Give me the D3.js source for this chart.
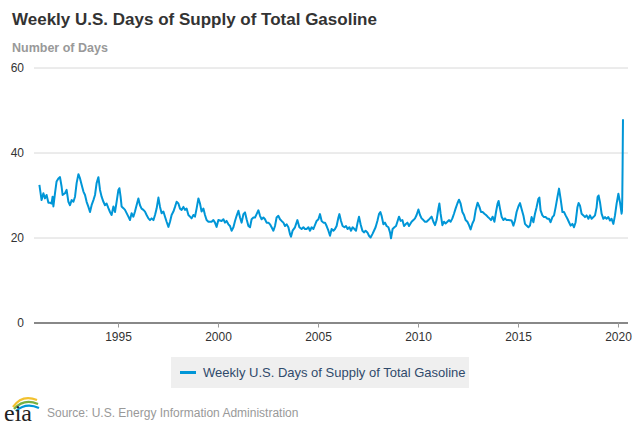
<!DOCTYPE html>
<html>
<head>
<meta charset="utf-8">
<script src="https://cdn.jsdelivr.net/npm/d3@7"></script>
<style>
  body { margin: 0; background: #fff; }
  svg { display: block; font-family: "Liberation Sans", Arial, sans-serif; }
</style>
</head>
<body>
<svg id="chart"></svg>
<script>
const dayTicks = [0, 20, 40, 60];
const yearTicks = [1995, 2000, 2005, 2010, 2015, 2020];

// [decimal year, days of supply]
const supply1991 = [
  [1991.07, 32.4], [1991.18, 28.8], [1991.27, 30.4], [1991.35, 29.2], [1991.43, 30.0],
  [1991.52, 28.2], [1991.60, 28.2], [1991.68, 28.0], [1991.73, 29.6], [1991.77, 27.3],
  [1991.85, 30.4], [1991.93, 33.2], [1992.02, 33.9], [1992.10, 34.2], [1992.18, 32.0],
  [1992.23, 30.0], [1992.35, 30.4], [1992.43, 31.2], [1992.52, 28.4], [1992.60, 27.6],
  [1992.68, 28.8], [1992.77, 28.4], [1992.85, 29.6], [1992.93, 32.8], [1993.02, 34.9],
  [1993.10, 33.9], [1993.18, 32.4], [1993.27, 30.8], [1993.35, 30.0], [1993.43, 28.4],
  [1993.52, 27.2], [1993.60, 26.0], [1993.68, 27.6], [1993.77, 28.8], [1993.85, 30.0],
  [1993.93, 32.8], [1994.02, 34.2], [1994.10, 31.2], [1994.18, 29.6], [1994.27, 28.4],
  [1994.35, 27.6], [1994.43, 28.0], [1994.52, 26.9], [1994.60, 26.0], [1994.68, 25.3],
  [1994.77, 27.3], [1994.85, 26.0], [1994.93, 28.4], [1995.02, 31.2], [1995.07, 31.6],
  [1995.13, 29.6], [1995.18, 27.3], [1995.27, 26.9]
];
const supply1995 = [
  [1995.35, 26.5], [1995.52, 24.9], [1995.60, 24.1], [1995.68, 25.7], [1995.77, 24.9],
  [1995.85, 26.1], [1995.93, 27.6], [1996.02, 29.2], [1996.10, 27.6], [1996.18, 26.8],
  [1996.27, 26.5], [1996.35, 26.1], [1996.43, 25.3], [1996.52, 24.5], [1996.60, 24.1],
  [1996.68, 24.5], [1996.77, 24.1], [1996.85, 25.3], [1996.93, 26.8], [1997.02, 29.4],
  [1997.10, 27.2], [1997.18, 25.7], [1997.27, 26.1], [1997.35, 24.9], [1997.43, 23.7],
  [1997.52, 22.5], [1997.60, 23.7], [1997.68, 25.3], [1997.77, 26.1], [1997.85, 27.2],
  [1997.93, 28.4], [1998.02, 28.0], [1998.10, 26.8], [1998.18, 26.5], [1998.27, 27.2],
  [1998.35, 26.5], [1998.43, 26.8], [1998.52, 25.3], [1998.60, 24.9], [1998.68, 24.5],
  [1998.77, 25.3], [1998.85, 24.9], [1998.93, 26.8], [1999.02, 29.2], [1999.10, 28.0],
  [1999.18, 26.1], [1999.27, 26.8], [1999.35, 25.3], [1999.43, 24.1], [1999.52, 23.7],
  [1999.60, 23.7], [1999.68, 23.7], [1999.77, 24.1], [1999.85, 23.5], [1999.93, 22.5],
  [2000.02, 24.1]
];
const supply2000 = [
  [2000.18, 23.9], [2000.27, 24.3], [2000.35, 23.5], [2000.43, 23.9], [2000.52, 23.1],
  [2000.60, 22.7], [2000.68, 21.6], [2000.77, 22.4], [2000.85, 23.9], [2000.93, 25.1],
  [2001.02, 26.3], [2001.10, 24.7], [2001.18, 23.5], [2001.27, 25.5], [2001.35, 25.9],
  [2001.43, 24.3], [2001.52, 22.7], [2001.60, 22.4], [2001.68, 24.3], [2001.77, 24.7],
  [2001.85, 24.7], [2001.93, 25.5], [2002.02, 26.4], [2002.10, 25.1], [2002.18, 24.3],
  [2002.27, 24.7], [2002.35, 24.3], [2002.43, 23.5], [2002.52, 23.5], [2002.60, 23.1],
  [2002.68, 22.4], [2002.77, 21.6], [2002.85, 22.7], [2002.93, 24.7], [2003.02, 25.1],
  [2003.10, 24.3], [2003.18, 23.9], [2003.27, 23.5], [2003.35, 22.7], [2003.43, 23.1],
  [2003.52, 22.4], [2003.60, 20.8], [2003.65, 20.2], [2003.73, 21.6], [2003.85, 22.4],
  [2003.97, 24.1], [2004.07, 22.4], [2004.18, 22.0], [2004.27, 22.4], [2004.35, 22.0],
  [2004.43, 22.0], [2004.52, 22.4], [2004.60, 21.6], [2004.68, 22.4], [2004.77, 22.0]
];
const supply2005 = [
  [2004.93, 23.9], [2005.02, 24.3], [2005.10, 25.5], [2005.18, 23.9], [2005.27, 23.5],
  [2005.35, 23.5], [2005.43, 22.7], [2005.52, 21.6], [2005.60, 20.4], [2005.68, 22.0],
  [2005.77, 21.6], [2005.85, 22.0], [2005.93, 22.7], [2006.02, 24.7], [2006.07, 25.5],
  [2006.15, 23.9], [2006.23, 22.7], [2006.32, 22.4], [2006.40, 22.7], [2006.48, 22.0],
  [2006.57, 22.4], [2006.65, 21.6], [2006.73, 22.4], [2006.82, 22.0], [2006.90, 21.6],
  [2006.98, 23.5], [2007.05, 24.9], [2007.13, 23.1], [2007.22, 21.6], [2007.30, 21.2],
  [2007.38, 21.6], [2007.47, 21.2], [2007.55, 20.4], [2007.63, 20.0], [2007.72, 20.8],
  [2007.80, 21.6], [2007.88, 22.4], [2007.97, 23.9], [2008.05, 25.5], [2008.12, 26.0],
  [2008.18, 25.1], [2008.27, 23.1], [2008.35, 23.5], [2008.43, 22.7], [2008.52, 22.4],
  [2008.60, 21.2], [2008.65, 19.8], [2008.73, 22.0], [2008.82, 22.4], [2008.90, 22.7],
  [2008.98, 23.9], [2009.05, 24.9], [2009.13, 23.9], [2009.22, 24.1], [2009.30, 22.7],
  [2009.38, 23.1], [2009.47, 23.5], [2009.55, 22.7]
];
const supply2010 = [
  [2009.68, 23.7], [2009.77, 24.1], [2009.85, 24.5], [2009.93, 25.3], [2010.02, 26.6],
  [2010.10, 25.3], [2010.18, 24.5], [2010.27, 24.1], [2010.35, 23.7], [2010.43, 23.7],
  [2010.52, 24.1], [2010.60, 24.5], [2010.68, 24.9], [2010.77, 23.7], [2010.85, 22.9],
  [2010.93, 24.1], [2011.02, 26.8], [2011.07, 28.0], [2011.13, 25.6], [2011.22, 22.9],
  [2011.30, 23.7], [2011.38, 23.3], [2011.47, 23.7], [2011.55, 24.1], [2011.63, 23.7],
  [2011.72, 24.5], [2011.80, 25.6], [2011.88, 26.8], [2011.97, 28.0], [2012.05, 28.9],
  [2012.13, 28.0], [2012.22, 26.0], [2012.30, 25.3], [2012.38, 24.1], [2012.47, 23.7],
  [2012.55, 22.9], [2012.63, 21.9], [2012.72, 23.3], [2012.80, 24.1], [2012.88, 26.4],
  [2012.98, 28.2], [2013.07, 27.2], [2013.15, 26.0], [2013.23, 26.0], [2013.32, 25.6],
  [2013.40, 25.3], [2013.48, 24.9], [2013.57, 24.5], [2013.65, 24.1], [2013.73, 24.9],
  [2013.82, 23.7], [2013.90, 26.0], [2013.98, 28.0], [2014.03, 28.6], [2014.10, 26.8],
  [2014.18, 24.9], [2014.27, 24.1], [2014.35, 24.5], [2014.43, 24.1], [2014.52, 24.1]
];
const supply2015 = [
  [2014.68, 24.0], [2014.77, 22.8], [2014.85, 24.0], [2014.93, 26.0], [2015.02, 27.3],
  [2015.10, 28.1], [2015.18, 26.7], [2015.27, 25.2], [2015.35, 23.2], [2015.43, 22.8],
  [2015.52, 22.4], [2015.60, 22.8], [2015.68, 24.8], [2015.77, 23.6], [2015.85, 25.6],
  [2015.93, 27.1], [2016.02, 29.1], [2016.07, 29.4], [2016.13, 26.4], [2016.22, 25.2],
  [2016.30, 24.8], [2016.38, 24.8], [2016.47, 24.4], [2016.55, 24.4], [2016.63, 23.6],
  [2016.72, 24.8], [2016.80, 25.2], [2016.88, 27.1], [2016.97, 29.5], [2017.05, 31.5],
  [2017.13, 29.1], [2017.22, 26.0], [2017.30, 26.0], [2017.38, 25.2], [2017.47, 24.4],
  [2017.55, 23.6], [2017.63, 22.8], [2017.72, 23.2], [2017.80, 22.4], [2017.88, 23.6],
  [2017.97, 27.1], [2018.03, 28.1], [2018.10, 27.5], [2018.18, 25.6], [2018.27, 25.2],
  [2018.35, 24.8], [2018.43, 25.2], [2018.52, 24.4], [2018.60, 25.2], [2018.68, 24.4],
  [2018.77, 24.8], [2018.85, 25.2], [2018.93, 27.1], [2018.98, 29.5], [2019.03, 29.9],
  [2019.10, 28.3], [2019.18, 25.6], [2019.27, 24.4], [2019.35, 24.8], [2019.43, 24.4],
  [2019.52, 24.8], [2019.60, 24.0], [2019.68, 24.4], [2019.77, 23.2], [2019.85, 25.2],
  [2019.93, 27.9], [2020.02, 30.3], [2020.10, 28.3], [2020.18, 25.6], [2020.20, 26.2],
  [2020.215, 29.5], [2020.23, 36.5], [2020.24, 42.5], [2020.25, 47.8]
];

function toDate(y){
    const yr = Math.floor(y);
    const start = new Date(yr, 0, 1), end = new Date(yr + 1, 0, 1);
    return new Date(+start + (y - yr) * (end - start));
}

class SupplyChart{
    constructor(config, data){
        this.config = {
            parent: config.parent || '#chart',
            width: config.width || 640,
            height: config.height || 427,
            left: 34, right: 628, top: 67.5, bottom: 322.5
        };
        this.data = data;
        this.init();
    }

    init(){
        const c = this.config;
        this.svg = d3.select(c.parent)
            .attr('width', c.width)
            .attr('height', c.height);

        this.x = d3.scaleTime()
            .domain([toDate(1990.8), toDate(2020.5)])
            .range([c.left, c.right]);
        this.y = d3.scaleLinear()
            .domain([0, 60])
            .range([c.bottom, c.top]);

        this.line = d3.line()
            .x(d => this.x(toDate(d[0])))
            .y(d => this.y(d[1]));
    }

    render(){
        const c = this.config, svg = this.svg;

        svg.append('text')
            .attr('x', 12).attr('y', 25)
            .attr('font-size', 17).attr('font-weight', 'bold').attr('fill', '#333')
            .text('Weekly U.S. Days of Supply of Total Gasoline');
        svg.append('text')
            .attr('x', 12).attr('y', 52)
            .attr('font-size', 12.5).attr('font-weight', 'bold').attr('fill', '#999')
            .text('Number of Days');

        // y grid + labels
        const yAxis = svg.append('g')
            .attr('transform', `translate(${c.left},0)`)
            .call(d3.axisLeft(this.y).tickValues(dayTicks)
                .tickSize(-(c.right - c.left)).tickPadding(10));
        yAxis.select('.domain').remove();
        yAxis.selectAll('line').attr('stroke', '#d8d8d8');
        yAxis.selectAll('.tick').filter(d => d === 0).select('line')
            .attr('stroke', '#888').attr('stroke-width', 2);
        yAxis.selectAll('text')
            .attr('font-size', 12).attr('fill', '#333')
            .attr('font-family', '"Liberation Sans", Arial, sans-serif');

        // x axis
        const xAxis = svg.append('g')
            .attr('transform', `translate(0,${c.bottom})`)
            .call(d3.axisBottom(this.x).tickValues(yearTicks.map(toDate))
                .tickFormat(d3.timeFormat('%Y')).tickSize(5).tickPadding(5));
        xAxis.select('.domain').remove();
        xAxis.selectAll('line').attr('stroke', '#999');
        xAxis.selectAll('text')
            .attr('font-size', 12).attr('fill', '#333')
            .attr('font-family', '"Liberation Sans", Arial, sans-serif');

        svg.append('path')
            .datum(this.data)
            .attr('d', this.line)
            .attr('fill', 'none')
            .attr('stroke', '#0096d7')
            .attr('stroke-width', 2)
            .attr('stroke-linejoin', 'round');

        // legend
        const lg = svg.append('g');
        lg.append('rect')
            .attr('x', 171).attr('y', 357).attr('width', 298).attr('height', 31)
            .attr('fill', '#efefef');
        lg.append('line')
            .attr('x1', 180).attr('x2', 196).attr('y1', 372.5).attr('y2', 372.5)
            .attr('stroke', '#0096d7').attr('stroke-width', 3);
        lg.append('text')
            .attr('x', 203).attr('y', 377)
            .attr('font-size', 13).attr('fill', '#2f4a6b')
            .text('Weekly U.S. Days of Supply of Total Gasoline');

        // eia logo + source
        const logo = svg.append('g');
        logo.append('path').attr('d', 'M13,407 Q22,394 37,400').attr('fill', 'none')
            .attr('stroke', '#f2c12e').attr('stroke-width', 2.2);
        logo.append('path').attr('d', 'M14,409 Q24,398 38,404').attr('fill', 'none')
            .attr('stroke', '#76b043').attr('stroke-width', 2.2);
        logo.append('path').attr('d', 'M16,411 Q26,402 39,408').attr('fill', 'none')
            .attr('stroke', '#0096d7').attr('stroke-width', 2.2);
        logo.append('text')
            .attr('x', 4).attr('y', 421)
            .attr('font-size', 24).attr('fill', '#222')
            .attr('font-family', '"Liberation Serif", "DejaVu Serif", serif')
            .text('eia');
        svg.append('text')
            .attr('x', 47).attr('y', 417)
            .attr('font-size', 12).attr('fill', '#999')
            .text('Source: U.S. Energy Information Administration');
    }
}

const series = [].concat(supply1991, supply1995, supply2000, supply2005, supply2010, supply2015);
const chart = new SupplyChart({parent: '#chart'}, series);
chart.render();
</script>
</body>
</html>
